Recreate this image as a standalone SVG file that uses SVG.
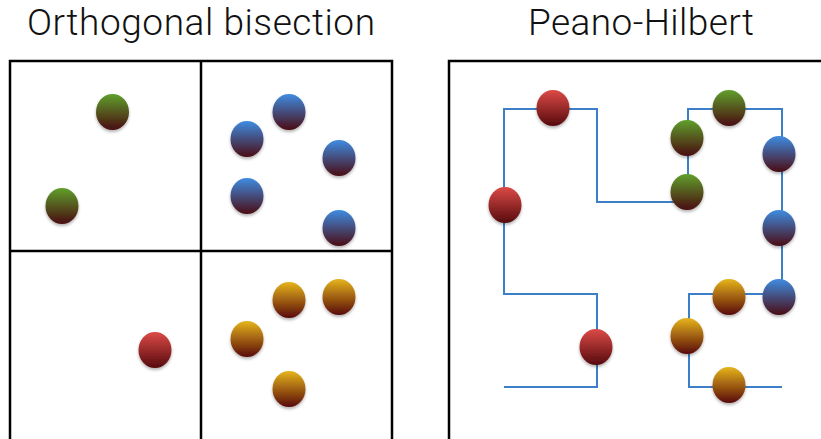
<svg xmlns="http://www.w3.org/2000/svg" xmlns:xlink="http://www.w3.org/1999/xlink" width="821" height="439" viewBox="0 0 821 439">
<style>
.title{font-family:Roboto,"Liberation Sans",sans-serif;font-weight:300;font-size:37px;fill:#111;text-anchor:middle}
.frame{fill:none;stroke:#000;stroke-width:2.5}
.curve{fill:none;stroke:#3a7fc8;stroke-width:2}
.g{fill:url(#gG)}.b{fill:url(#gB)}.r{fill:url(#gR)}.o{fill:url(#gO)}
.ball{filter:url(#sh)}
</style>
<defs>
<linearGradient id="gG" x1="0" y1="0" x2="0" y2="1"><stop offset="0" stop-color="#5fa02c"/><stop offset="1" stop-color="#4a0c10"/></linearGradient>
<linearGradient id="gB" x1="0" y1="0" x2="0" y2="1"><stop offset="0" stop-color="#3f8ce2"/><stop offset="1" stop-color="#4a0c14"/></linearGradient>
<linearGradient id="gR" x1="0" y1="0" x2="0" y2="1"><stop offset="0" stop-color="#dc4a46"/><stop offset="1" stop-color="#560a0e"/></linearGradient>
<linearGradient id="gO" x1="0" y1="0" x2="0" y2="1"><stop offset="0" stop-color="#e6b51c"/><stop offset="1" stop-color="#580a08"/></linearGradient>
<filter id="sh" x="-30%" y="-30%" width="160%" height="170%"><feDropShadow dx="0" dy="2" stdDeviation="1.5" flood-color="#000" flood-opacity="0.3"/></filter>
</defs>
<text class="title" x="201" y="35" textLength="348" lengthAdjust="spacing">Orthogonal bisection</text>
<text class="title" x="641" y="35" textLength="226" lengthAdjust="spacing">Peano-Hilbert</text>
<g id="bisection-frame">
<path class="frame" d="M10,445 V61 H392 V445 M201,61 V445 M10,251 H392"/>
</g>
<g id="hilbert-frame">
<path class="frame" d="M449,445 V61 H830"/>
</g>
<g id="connectors">
<path class="curve" d="M504,387 H597 V294 H504 V109 H597 V202 H688 V109 H782 V294 H689 V387 H782"/>
</g>
<g id="bisection-balls" class="ball">
<g id="L-g1"><ellipse class="g" cx="112.5" cy="112" rx="16.5" ry="18"/></g>
<g id="L-g2"><ellipse class="g" cx="62" cy="206" rx="16.5" ry="18"/></g>
<g id="L-b1"><ellipse class="b" cx="289" cy="112" rx="16.5" ry="18"/></g>
<g id="L-b2"><ellipse class="b" cx="247" cy="139" rx="16.5" ry="18"/></g>
<g id="L-b3"><ellipse class="b" cx="339" cy="158" rx="16.5" ry="18"/></g>
<g id="L-b4"><ellipse class="b" cx="247" cy="196" rx="16.5" ry="18"/></g>
<g id="L-b5"><ellipse class="b" cx="339" cy="228" rx="16.5" ry="18"/></g>
<g id="L-r1"><ellipse class="r" cx="155" cy="350" rx="16.5" ry="18"/></g>
<g id="L-o1"><ellipse class="o" cx="289" cy="300" rx="16.5" ry="18"/></g>
<g id="L-o2"><ellipse class="o" cx="339" cy="297" rx="16.5" ry="18"/></g>
<g id="L-o3"><ellipse class="o" cx="247" cy="339" rx="16.5" ry="18"/></g>
<g id="L-o4"><ellipse class="o" cx="289" cy="389" rx="16.5" ry="18"/></g>
</g>
<g id="hilbert-balls" class="ball">
<g id="R-r1"><ellipse class="r" cx="553" cy="108" rx="16.5" ry="18"/></g>
<g id="R-r2"><ellipse class="r" cx="505" cy="205" rx="16.5" ry="18"/></g>
<g id="R-r3"><ellipse class="r" cx="596" cy="347" rx="16.5" ry="18"/></g>
<g id="R-g1"><ellipse class="g" cx="687" cy="138" rx="16.5" ry="18"/></g>
<g id="R-g2"><ellipse class="g" cx="687" cy="192" rx="16.5" ry="18"/></g>
<g id="R-g3"><ellipse class="g" cx="729" cy="108" rx="16.5" ry="18"/></g>
<g id="R-b1"><ellipse class="b" cx="779" cy="154" rx="16.5" ry="18"/></g>
<g id="R-b2"><ellipse class="b" cx="779" cy="228" rx="16.5" ry="18"/></g>
<g id="R-b3"><ellipse class="b" cx="779" cy="297" rx="16.5" ry="18"/></g>
<g id="R-o1"><ellipse class="o" cx="729" cy="297" rx="16.5" ry="18"/></g>
<g id="R-o2"><ellipse class="o" cx="687" cy="336" rx="16.5" ry="18"/></g>
<g id="R-o3"><ellipse class="o" cx="729" cy="385" rx="16.5" ry="18"/></g>
</g>
</svg>
